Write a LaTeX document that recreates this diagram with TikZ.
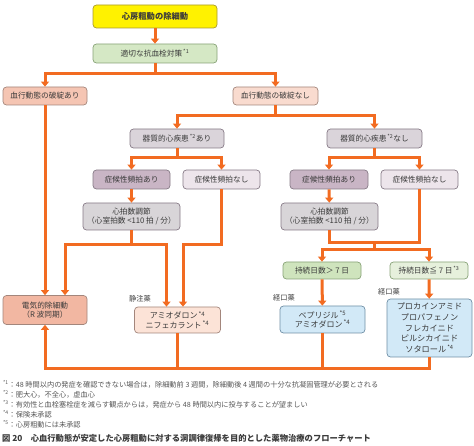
\documentclass[tikz,border=0pt]{standalone}
\usepackage{fontspec}
\setmainfont{Noto Sans CJK JP}
\usetikzlibrary{arrows.meta,calc}
\definecolor{flow}{HTML}{F26B21}
\definecolor{txt}{HTML}{3A3A3A}
\definecolor{noteC}{HTML}{555555}
\definecolor{yelF}{HTML}{FFF200}\definecolor{yelD}{HTML}{A8992E}
\definecolor{grnF}{HTML}{D5E8C5}\definecolor{grnD}{HTML}{87A277}
\definecolor{grnM}{HTML}{CFE4BD}\definecolor{grnL}{HTML}{E6F0DC}
\definecolor{salF}{HTML}{F5C5B3}\definecolor{salL}{HTML}{F9DBCF}
\definecolor{salD}{HTML}{F2B7A2}\definecolor{salP}{HTML}{FCE3D7}
\definecolor{salB}{HTML}{A3867C}
\definecolor{orgF}{HTML}{DAD4DA}\definecolor{orgB}{HTML}{867A86}
\definecolor{symY}{HTML}{C9B5C5}\definecolor{symN}{HTML}{EDE5EB}
\definecolor{rateF}{HTML}{D8D5D8}
\definecolor{bluF}{HTML}{D2E9F7}\definecolor{bluB}{HTML}{6F8FA5}
\newcommand\supnote[1]{\textsuperscript{\,*#1}}
\tikzset{
  box/.style={draw, rounded corners=3.5pt, line width=0.7pt, inner sep=0pt,
    align=center, text=txt, font=\fontsize{7.7}{9.5}\selectfont},
  sz/.style 2 args={minimum width=#1pt, minimum height=#2pt},
  link/.style={draw=flow, line width=3pt},
  arrow/.style={link, -{Triangle[length=5pt,width=8pt]}},
  drug/.style={text=txt, font=\fontsize{7.2}{8}\selectfont},
  fnote/.style={anchor=west, inner sep=0pt, text=noteC, font=\fontsize{7.2}{8}\selectfont},
}
\begin{document}
\begin{tikzpicture}[x=1pt, y=-1pt]
\useasboundingbox (0,0) rectangle (474,446);
% boxes
\node[box, sz={124}{23}, fill=yelF, draw=yelD, font=\fontsize{8.3}{10}\selectfont\bfseries] (start) at (155,16.5) {心房粗動の除細動};
\node[box, sz={124}{19}, fill=grnF, draw=grnD] (anti) at (155,53.5) {適切な抗血栓対策\supnote{1}};
\node[box, sz={84}{18}, fill=salF, draw=salB] (hemoY) at (45,96) {血行動態の破綻あり};
\node[box, sz={85}{18}, fill=salL, draw=salB] (hemoN) at (275.5,96) {血行動態の破綻なし};
\node[box, sz={94}{19}, fill=orgF, draw=orgB] (orgY) at (177,138.5) {器質的心疾患\supnote{2}あり};
\node[box, sz={95}{19}, fill=orgF, draw=orgB] (orgN) at (374.5,138.5) {器質的心疾患\supnote{2}なし};
\node[box, sz={77}{19}, fill=symY, draw=orgB] (symLY) at (131.5,179.5) {症候性頻拍あり};
\node[box, sz={77}{19}, fill=symN, draw=orgB] (symLN) at (221.5,179.5) {症候性頻拍なし};
\node[box, sz={78}{19}, fill=symY, draw=orgB] (symRY) at (329,179.5) {症候性頻拍あり};
\node[box, sz={77}{19}, fill=symN, draw=orgB] (symRN) at (419.5,179.5) {症候性頻拍なし};
\node[box, sz={97}{27}, fill=rateF, draw=orgB] (rateL) at (131.5,216.5) {心拍数調節\\（心室拍数 <110 拍 / 分）};
\node[box, sz={97}{27}, fill=rateF, draw=orgB] (rateR) at (329.5,216.5) {心拍数調節\\（心室拍数 <110 拍 / 分）};
\node[box, sz={78}{17}, fill=grnM, draw=grnD] (durG) at (322,270.5) {持続日数＞ 7 日};
\node[box, sz={78}{17}, fill=grnL, draw=grnD] (durL) at (429,270.5) {持続日数≦ 7 日\supnote{3}};
\node[box, sz={84}{29}, fill=salD, draw=salB] (dc) at (45,310) {電気的除細動\\（R 波同期）};
\node[box, sz={86}{26}, fill=salP, draw=salB, font=\fontsize{8}{9.5}\selectfont] (ivAm) at (177.5,320) {アミオダロン\supnote{4}\\ニフェカラント\supnote{4}};
\node[box, sz={85}{27}, fill=bluF, draw=bluB, font=\fontsize{8}{9.3}\selectfont] (poBep) at (322.5,319.5) {ベプリジル\supnote{5}\\アミオダロン\supnote{4}};
\node[box, sz={85}{58}, fill=bluF, draw=bluB, font=\fontsize{8.2}{10.7}\selectfont] (poPro) at (429.5,328) {プロカインアミド\\プロパフェノン\\フレカイニド\\ピルシカイニド\\ソタロール\supnote{4}};
% route labels
\node[drug] (ivLbl) at (140,299) {静注薬};
\node[drug] (poLblA) at (284,298) {経口薬};
\node[drug] (poLblB) at (389,292) {経口薬};
% connectors
\coordinate (j1) at (155,74);
\coordinate (j2) at (275.5,116);
\coordinate (j3) at (177,158);
\coordinate (j4) at (374.5,158);
\coordinate (j5) at (131.5,245);
\coordinate (j6) at (221.5,245);
\coordinate (j7) at (374,243);
\coordinate (j8) at (374,250);
\coordinate (b0) at (45,368);
\draw[arrow] (start) -- (anti);
\draw[link] (anti) -- (j1);
\draw[arrow] (j1) -| (hemoY);
\draw[arrow] (j1) -| (hemoN);
\draw[arrow] (hemoY) -- (dc);
\draw[link] (hemoN) -- (j2);
\draw[arrow] (j2) -| (orgY);
\draw[arrow] (j2) -| (orgN);
\draw[link] (orgY) -- (j3);
\draw[arrow] (j3) -| (symLY);
\draw[arrow] (j3) -| (symLN);
\draw[link] (orgN) -- (j4);
\draw[arrow] (j4) -| (symRY);
\draw[arrow] (j4) -| (symRN);
\draw[arrow] (symLY) -- (rateL);
\draw[arrow] (symRY) -- (rateR);
% left branch
\draw[link] (rateL) -- (j5);
\draw[arrow] (j5) -| ($(dc.north)+(20,0)$);
\draw[arrow] (j5) -| ($(ivAm.north)+(-11,0)$);
\draw[arrow] (symLN) -- (j6) -| ($(ivAm.north)+(5.5,0)$);
% right branch
\draw[link] (rateR.south) -- (rateR.south |- j7) -| (symRN.south);
\draw[link] (j7) -- (j8);
\draw[arrow] (j8) -| (durG);
\draw[arrow] (j8) -| (durL);
\draw[arrow] (durG) -- (poBep);
\draw[arrow] (durL) -- (poPro);
% return to cardioversion
\draw[link] (ivAm.south) -- (ivAm.south |- b0);
\draw[link] (poBep.south) -- (poBep.south |- b0);
\draw[arrow] (poPro.south) |- (b0) -- (dc.south);
% footnotes
\node[fnote] (fn1) at (2,384) {\supnote{1}：48 時間以内の発症を確認できない場合は，除細動前 3 週間，除細動後 4 週間の十分な抗凝固管理が必要とされる};
\node[fnote] (fn2) at (2,394.5) {\supnote{2}：肥大心，不全心，虚血心};
\node[fnote] (fn3) at (2,404.5) {\supnote{3}：有効性と血栓塞栓症を減らす観点からは，発症から 48 時間以内に投与することが望ましい};
\node[fnote] (fn4) at (2,414.5) {\supnote{4}：保険未承認};
\node[fnote] (fn5) at (2,424.5) {\supnote{5}：心房粗動には未承認};
\node[anchor=west, inner sep=0pt, text=txt, font=\fontsize{8.3}{10}\selectfont\bfseries] (caption) at (2,438.5) {図 20\quad 心血行動態が安定した心房粗動に対する洞調律復帰を目的とした薬物治療のフローチャート};
\end{tikzpicture}
\end{document}
